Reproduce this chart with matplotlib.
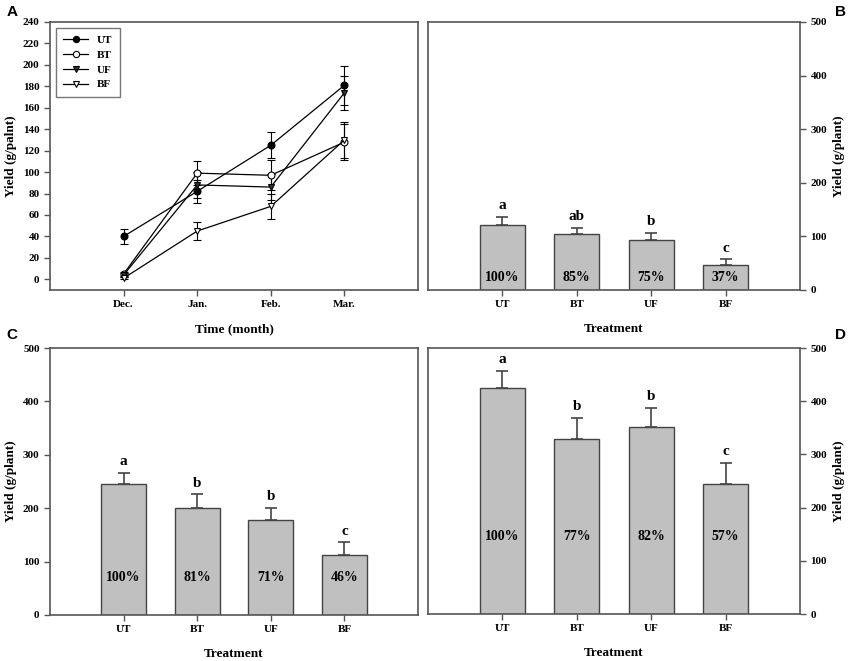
import matplotlib.pyplot as plt
from matplotlib.lines import Line2D
import numpy as np

# Panel A: monthly yield (g/plant)
months = ['Dec.', 'Jan.', 'Feb.', 'Mar.']
ut_line = [40, 82, 125, 181]
ut_err = [7, 11, 12, 18]
bt_line = [5, 99, 97, 128]
bt_err = [2, 11, 14, 17]
uf_line = [4, 88, 86, 174]
uf_err = [2, 12, 12, 16]
bf_line = [1, 45, 68, 130]
bf_err = [1, 8, 12, 17]

# Panels B, C, D: totals per treatment
treat = ['UT', 'BT', 'UF', 'BF']
b_val = [121, 104, 93, 46]
b_err = [16, 12, 13, 11]
b_let = ['a', 'ab', 'b', 'c']
b_pct = ['100%', '85%', '75%', '37%']

c_val = [245, 200, 177, 113]
c_err = [21, 26, 23, 23]
c_let = ['a', 'b', 'b', 'c']
c_pct = ['100%', '81%', '71%', '46%']

d_val = [425, 329, 351, 244]
d_err = [32, 40, 36, 40]
d_let = ['a', 'b', 'b', 'c']
d_pct = ['100%', '77%', '82%', '57%']

plt.rcParams['font.family'] = 'Liberation Serif'
plt.rcParams['font.weight'] = 'bold'
W, H = 850, 661
fig = plt.figure(figsize=(W/100, H/100), dpi=100)

def box(l, r, t, b):
    return [l/W, (H-b)/H, (r-l)/W, (b-t)/H]

def style(ax):
    for s in ax.spines.values():
        s.set_color('#555555')
        s.set_linewidth(1.2)
    ax.tick_params(direction='out', length=4, width=1, color='#555555', labelsize=8)
    for lab in ax.get_xticklabels() + ax.get_yticklabels():
        lab.set_fontweight('bold')

# ---- A
axA = fig.add_axes(box(50, 418, 22, 290))
xm = np.arange(1, 5)
series = [(ut_line, ut_err, 'o', 'black', 'UT'),
          (bt_line, bt_err, 'o', 'white', 'BT'),
          (uf_line, uf_err, 'v', '#333333', 'UF'),
          (bf_line, bf_err, 'v', 'white', 'BF')]
handles = []
for vals, err, mk, fc, lab in series:
    axA.errorbar(xm, vals, yerr=err, color='black', lw=0.9, marker=mk, ms=5,
                 mfc=fc, mec='black', mew=0.8, capsize=3, elinewidth=0.8,
                 capthick=0.8)
    handles.append(Line2D([], [], color='black', lw=0.9, marker=mk, ms=4.5,
                          mfc=fc, mec='black', mew=0.8, label=lab))
axA.set_xlim(0, 5)
axA.set_ylim(-10, 240)
axA.set_xticks(xm)
axA.set_xticklabels(months)
axA.set_yticks(np.arange(0, 241, 20))
axA.set_xlabel('Time (month)', fontsize=9.5, fontweight='bold', labelpad=10)
axA.set_ylabel('Yield (g/palnt)', fontsize=9.5, fontweight='bold')
leg = axA.legend(handles=handles, loc='upper left', fontsize=8, frameon=True,
                 fancybox=False, edgecolor='#555555', handlelength=2.2,
                 borderpad=0.7, labelspacing=0.45)
for t in leg.get_texts():
    t.set_fontweight('bold')
style(axA)

def bars(ax, vals, err, lets, pcts, pct_y, right):
    x = np.arange(1, 5)
    ax.bar(x, vals, width=0.61, color='#c0c0c0', edgecolor='#444444', lw=1.0)
    ax.errorbar(x, vals, yerr=[np.zeros(4), err], fmt='none', ecolor='#444444',
                elinewidth=1.2, capsize=4, capthick=1.2)
    for xi, v, e, l, p in zip(x, vals, err, lets, pcts):
        ax.text(xi, v + e + 9, l, ha='center', va='bottom', fontsize=11,
                fontweight='bold')
        ax.text(xi, pct_y, p, ha='center', va='center', fontsize=10,
                fontweight='bold')
    ax.set_xlim(0, 5)
    ax.set_ylim(0, 500)
    ax.set_xticks(x)
    ax.set_xticklabels(treat)
    ax.set_yticks(np.arange(0, 501, 100))
    ax.set_xlabel('Treatment', fontsize=9.5, fontweight='bold', labelpad=10)
    ax.set_ylabel('Yield (g/plant)', fontsize=9.5, fontweight='bold')
    if right:
        ax.yaxis.tick_right()
        ax.yaxis.set_label_position('right')
    style(ax)

axB = fig.add_axes(box(428, 800, 22, 290))
bars(axB, b_val, b_err, b_let, b_pct, 24, True)
axC = fig.add_axes(box(50, 418, 348, 615))
bars(axC, c_val, c_err, c_let, c_pct, 70, False)
axD = fig.add_axes(box(428, 800, 348, 614))
bars(axD, d_val, d_err, d_let, d_pct, 145, True)

for lab, px, py in [('A', 12, 12), ('B', 840, 12), ('C', 12, 335), ('D', 840, 335)]:
    fig.text(px/W, 1 - py/H, lab, ha='center', va='center', fontsize=11,
             fontweight='bold', family='Liberation Sans')

fig.savefig('out.png', dpi=100)
